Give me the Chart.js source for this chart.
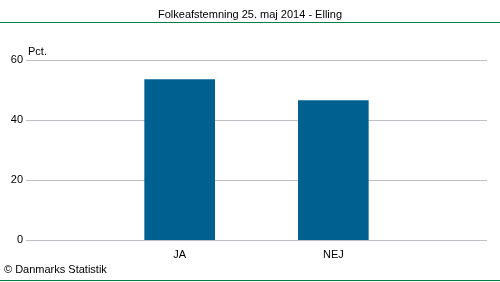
<!DOCTYPE html>
<html>
<head>
<meta charset="utf-8">
<script src="https://cdn.jsdelivr.net/npm/chart.js@4/dist/chart.umd.min.js"></script>
<style>
html,body{margin:0;padding:0;background:#fff;}
#wrap{width:500px;height:282px;}
</style>
</head>
<body>
<div id="wrap"><canvas id="c" width="500" height="282"></canvas></div>
<script>
const chartTitle = "Folkeafstemning 25. maj 2014 - Elling";
const unitLabel = "Pct.";
const footerText = "© Danmarks Statistik";
const categories = ["", "JA", "NEJ", ""];
const values = [null, 53.5, 46.5, null];
const yTicks = [0, 20, 40, 60];

const FONT = "'Liberation Sans', Arial, sans-serif";

const decor = {
  id: 'decor',
  beforeDatasetsDraw(chart) {
    const ctx = chart.ctx;
    const a = chart.chartArea;
    const ys = chart.scales.y;
    ctx.save();
    ctx.strokeStyle = '#bfbfc8';
    ctx.lineWidth = 1;
    ctx.beginPath();
    yTicks.forEach(v => {
      const y = Math.round(ys.getPixelForValue(v)) + 0.5;
      ctx.moveTo(a.left, y); ctx.lineTo(a.right, y);
    });
    ctx.stroke();
    ctx.restore();
  },
  afterDraw(chart) {
    const ctx = chart.ctx;
    const a = chart.chartArea;
    ctx.save();
    ctx.strokeStyle = '#008040';
    ctx.lineWidth = 1;
    ctx.beginPath();
    ctx.moveTo(0, 22.5); ctx.lineTo(500, 22.5);
    ctx.moveTo(0, 280.5); ctx.lineTo(500, 280.5);
    ctx.stroke();
    ctx.fillStyle = '#000';
    ctx.font = "11px " + FONT;
    ctx.textBaseline = 'middle';
    ctx.textAlign = 'center';
    ctx.fillText(chartTitle, 250, 15);
    ctx.textAlign = 'left';
    ctx.fillText(unitLabel, a.left + 2, 52);
    ctx.fillText(footerText, 4, 270);
    ctx.restore();
  }
};

new Chart(document.getElementById('c'), {
  type: 'bar',
  data: {
    labels: categories,
    datasets: [{
      data: values,
      backgroundColor: '#006090',
      borderWidth: 0,
      barThickness: 70
    }]
  },
  options: {
    responsive: false,
    animation: false,
    layout: { padding: { left: 0, right: 13, top: 60, bottom: 20 } },
    plugins: {
      legend: { display: false },
      tooltip: { enabled: false },
      title: { display: false }
    },
    scales: {
      x: {
        offset: false,
        grid: { display: false, drawTicks: false },
        border: { display: false },
        ticks: { color: '#000', font: { family: FONT, size: 11 }, padding: 8, autoSkip: false, maxRotation: 0 },
        afterFit(s) { s.height = 22; }
      },
      y: {
        min: 0, max: 60,
        afterBuildTicks(s) { s.ticks = yTicks.map(v => ({ value: v })); },
        grid: { display: false, drawTicks: false },
        border: { display: false },
        ticks: { color: '#000', font: { family: FONT, size: 11 }, padding: 3 },
        afterFit(s) { s.width = 26; }
      }
    }
  },
  plugins: [decor]
});
</script>
</body>
</html>
